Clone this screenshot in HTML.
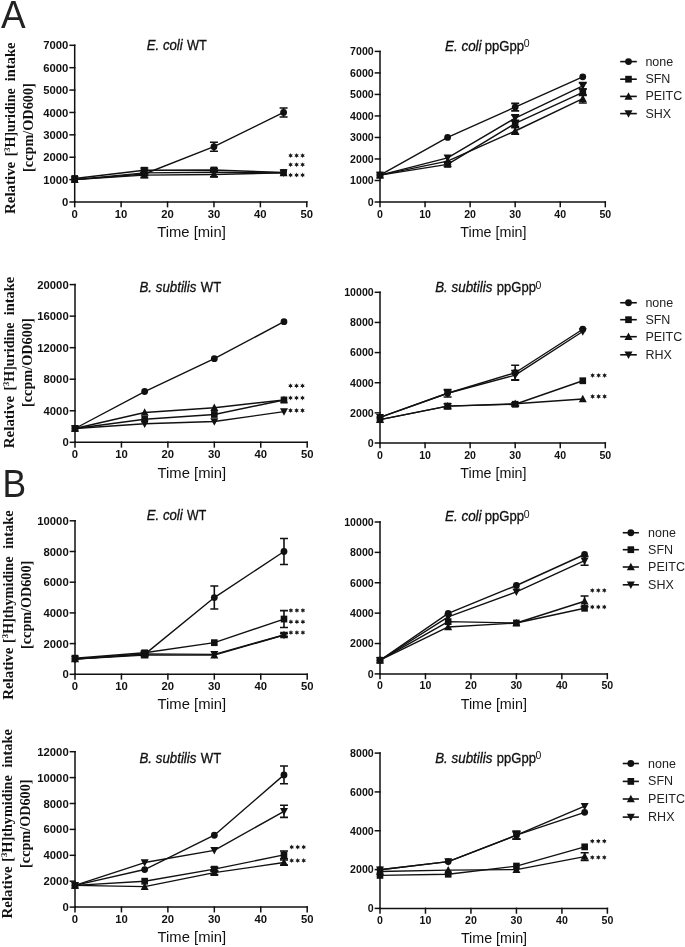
<!DOCTYPE html><html><head><meta charset="utf-8"><style>
html,body{margin:0;padding:0;background:#fff;width:685px;height:947px;overflow:hidden}
svg{display:block;will-change:transform}
text{font-family:"Liberation Sans",sans-serif;fill:#111}
.hv{stroke:#111;stroke-width:0.3px}
.tl{font-weight:bold}
.ser{font-family:"Liberation Serif",serif;font-weight:bold}
</style></head><body>
<svg width="685" height="947" viewBox="0 0 685 947">
<text transform="translate(1.1 27.7) scale(0.935 1)" font-size="39.5" style="fill:#222">A</text>
<text transform="translate(2.5 497.4) scale(0.92 1)" font-size="38.5" style="fill:#222">B</text>
<g stroke="#111" stroke-width="1.5" fill="none" stroke-linecap="square">
<path d="M74.7 45.3V202H306.8"/>
<path d="M70.1 202H74.7"/>
<path d="M70.1 179.61H74.7"/>
<path d="M70.1 157.23H74.7"/>
<path d="M70.1 134.84H74.7"/>
<path d="M70.1 112.46H74.7"/>
<path d="M70.1 90.07H74.7"/>
<path d="M70.1 67.69H74.7"/>
<path d="M70.1 45.3H74.7"/>
<path d="M74.7 202V206.6"/>
<path d="M121.12 202V206.6"/>
<path d="M167.54 202V206.6"/>
<path d="M213.96 202V206.6"/>
<path d="M260.38 202V206.6"/>
<path d="M306.8 202V206.6"/>
</g>
<text class="tl" x="68.4" y="206.05" font-size="11.3" text-anchor="end">0</text>
<text class="tl" x="68.4" y="183.66" font-size="11.3" text-anchor="end">1000</text>
<text class="tl" x="68.4" y="161.27" font-size="11.3" text-anchor="end">2000</text>
<text class="tl" x="68.4" y="138.89" font-size="11.3" text-anchor="end">3000</text>
<text class="tl" x="68.4" y="116.5" font-size="11.3" text-anchor="end">4000</text>
<text class="tl" x="68.4" y="94.12" font-size="11.3" text-anchor="end">5000</text>
<text class="tl" x="68.4" y="71.73" font-size="11.3" text-anchor="end">6000</text>
<text class="tl" x="68.4" y="49.35" font-size="11.3" text-anchor="end">7000</text>
<text class="tl" x="74.7" y="218.09" font-size="11.3" text-anchor="middle">0</text>
<text class="tl" x="121.12" y="218.09" font-size="11.3" text-anchor="middle">10</text>
<text class="tl" x="167.54" y="218.09" font-size="11.3" text-anchor="middle">20</text>
<text class="tl" x="213.96" y="218.09" font-size="11.3" text-anchor="middle">30</text>
<text class="tl" x="260.38" y="218.09" font-size="11.3" text-anchor="middle">40</text>
<text class="tl" x="306.8" y="218.09" font-size="11.3" text-anchor="middle">50</text>
<text x="191.5" y="237.4" font-size="14.8" text-anchor="middle">Time [min]</text>
<text class="hv" x="146.8" y="50.3" font-size="13.8" font-style="italic" textLength="35.9" lengthAdjust="spacingAndGlyphs">E. coli</text>
<text class="hv" x="187" y="50.3" font-size="13.8" textLength="19.8" lengthAdjust="spacingAndGlyphs">WT</text>
<g stroke="#111" stroke-width="1.4" fill="none" stroke-linejoin="round">
<polyline points="74.7,179.61 144.33,174.02 213.96,146.71 283.59,112.46"/>
<polyline points="74.7,178.5 144.33,170.21 213.96,169.99 283.59,172.45"/>
<polyline points="74.7,179.61 144.33,175.14 213.96,174.47 283.59,172.9"/>
<polyline points="74.7,179.61 144.33,172.9 213.96,172.23 283.59,172.9"/>
</g>
<g stroke="#111" stroke-width="1.6" fill="none">
<path d="M213.96 142.23V151.18M209.96 142.23h8M209.96 151.18h8"/>
<path d="M283.59 107.98V116.93M279.59 107.98h8M279.59 116.93h8"/>
<path d="M144.33 167.97V172.45M140.33 167.97h8M140.33 172.45h8"/>
<path d="M213.96 168.2V171.78M209.96 168.2h8M209.96 171.78h8"/>
<path d="M144.33 172.9V177.38M140.33 172.9h8M140.33 177.38h8"/>
<path d="M213.96 172.23V176.7M209.96 172.23h8M209.96 176.7h8"/>
<path d="M144.33 170.66V175.14M140.33 170.66h8M140.33 175.14h8"/>
</g>
<g fill="#111">
<circle cx="74.7" cy="179.61" r="3.4"/>
<circle cx="144.33" cy="174.02" r="3.4"/>
<circle cx="213.96" cy="146.71" r="3.4"/>
<circle cx="283.59" cy="112.46" r="3.4"/>
<rect x="71.4" y="175.09" width="6.6" height="6.8"/>
<rect x="141.03" y="166.81" width="6.6" height="6.8"/>
<rect x="210.66" y="166.59" width="6.6" height="6.8"/>
<rect x="280.29" y="169.05" width="6.6" height="6.8"/>
<path d="M74.7 175.41L78.7 182.91L70.7 182.91Z"/>
<path d="M144.33 170.94L148.33 178.44L140.33 178.44Z"/>
<path d="M213.96 170.27L217.96 177.77L209.96 177.77Z"/>
<path d="M283.59 168.7L287.59 176.2L279.59 176.2Z"/>
<path d="M74.7 183.81L78.7 176.31L70.7 176.31Z"/>
<path d="M144.33 177.1L148.33 169.6L140.33 169.6Z"/>
<path d="M213.96 176.43L217.96 168.93L209.96 168.93Z"/>
<path d="M283.59 177.1L287.59 169.6L279.59 169.6Z"/>
</g>
<g stroke="#111" stroke-width="1.5" fill="none" stroke-linecap="square">
<path d="M380 51.4V202H605.3"/>
<path d="M375.4 202H380"/>
<path d="M375.4 180.49H380"/>
<path d="M375.4 158.97H380"/>
<path d="M375.4 137.46H380"/>
<path d="M375.4 115.94H380"/>
<path d="M375.4 94.43H380"/>
<path d="M375.4 72.91H380"/>
<path d="M375.4 51.4H380"/>
<path d="M380 202V206.6"/>
<path d="M425.06 202V206.6"/>
<path d="M470.12 202V206.6"/>
<path d="M515.18 202V206.6"/>
<path d="M560.24 202V206.6"/>
<path d="M605.3 202V206.6"/>
</g>
<text class="tl" x="373.7" y="205.79" font-size="10.6" text-anchor="end">0</text>
<text class="tl" x="373.7" y="184.28" font-size="10.6" text-anchor="end">1000</text>
<text class="tl" x="373.7" y="162.77" font-size="10.6" text-anchor="end">2000</text>
<text class="tl" x="373.7" y="141.25" font-size="10.6" text-anchor="end">3000</text>
<text class="tl" x="373.7" y="119.74" font-size="10.6" text-anchor="end">4000</text>
<text class="tl" x="373.7" y="98.22" font-size="10.6" text-anchor="end">5000</text>
<text class="tl" x="373.7" y="76.71" font-size="10.6" text-anchor="end">6000</text>
<text class="tl" x="373.7" y="55.19" font-size="10.6" text-anchor="end">7000</text>
<text class="tl" x="380" y="217.59" font-size="10.6" text-anchor="middle">0</text>
<text class="tl" x="425.06" y="217.59" font-size="10.6" text-anchor="middle">10</text>
<text class="tl" x="470.12" y="217.59" font-size="10.6" text-anchor="middle">20</text>
<text class="tl" x="515.18" y="217.59" font-size="10.6" text-anchor="middle">30</text>
<text class="tl" x="560.24" y="217.59" font-size="10.6" text-anchor="middle">40</text>
<text class="tl" x="605.3" y="217.59" font-size="10.6" text-anchor="middle">50</text>
<text x="493.4" y="236.6" font-size="14.3" text-anchor="middle">Time [min]</text>
<text class="hv" x="445" y="50.6" font-size="13.8" font-style="italic" textLength="36.6" lengthAdjust="spacingAndGlyphs">E. coli</text>
<text class="hv" x="484.8" y="50.6" font-size="13.8" textLength="39.3" lengthAdjust="spacingAndGlyphs">ppGpp</text>
<text x="523.7" y="47.2" font-size="10.5">0</text>
<g stroke="#111" stroke-width="1.4" fill="none" stroke-linejoin="round">
<polyline points="380,175.11 447.59,137.46 515.18,107.12 582.77,76.79"/>
<polyline points="380,175.11 447.59,164.35 515.18,123.47 582.77,92.28"/>
<polyline points="380,175.11 447.59,161.12 515.18,131 582.77,98.73"/>
<polyline points="380,175.11 447.59,157.9 515.18,118.09 582.77,85.82"/>
</g>
<g stroke="#111" stroke-width="1.6" fill="none">
<path d="M515.18 103.36V110.89M511.18 103.36h8M511.18 110.89h8"/>
<path d="M447.59 162.2V166.5M443.59 162.2h8M443.59 166.5h8"/>
<path d="M515.18 120.25V126.7M511.18 120.25h8M511.18 126.7h8"/>
<path d="M582.77 89.05V95.5M578.77 89.05h8M578.77 95.5h8"/>
<path d="M515.18 127.78V134.23M511.18 127.78h8M511.18 134.23h8"/>
<path d="M582.77 94.43V103.03M578.77 94.43h8M578.77 103.03h8"/>
<path d="M515.18 114.87V121.32M511.18 114.87h8M511.18 121.32h8"/>
<path d="M582.77 82.6V89.05M578.77 82.6h8M578.77 89.05h8"/>
</g>
<g fill="#111">
<circle cx="380" cy="175.11" r="3.4"/>
<circle cx="447.59" cy="137.46" r="3.4"/>
<circle cx="515.18" cy="107.12" r="3.4"/>
<circle cx="582.77" cy="76.79" r="3.4"/>
<rect x="376.7" y="171.71" width="6.6" height="6.8"/>
<rect x="444.29" y="160.95" width="6.6" height="6.8"/>
<rect x="511.88" y="120.07" width="6.6" height="6.8"/>
<rect x="579.47" y="88.88" width="6.6" height="6.8"/>
<path d="M380 170.91L384 178.41L376 178.41Z"/>
<path d="M447.59 156.92L451.59 164.42L443.59 164.42Z"/>
<path d="M515.18 126.8L519.18 134.3L511.18 134.3Z"/>
<path d="M582.77 94.53L586.77 102.03L578.77 102.03Z"/>
<path d="M380 179.31L384 171.81L376 171.81Z"/>
<path d="M447.59 162.1L451.59 154.6L443.59 154.6Z"/>
<path d="M515.18 122.29L519.18 114.79L511.18 114.79Z"/>
<path d="M582.77 90.02L586.77 82.52L578.77 82.52Z"/>
</g>
<g stroke="#111" stroke-width="1.5" fill="none" stroke-linecap="square">
<path d="M75 284.6V442.3H307.2"/>
<path d="M70.4 442.3H75"/>
<path d="M70.4 410.76H75"/>
<path d="M70.4 379.22H75"/>
<path d="M70.4 347.68H75"/>
<path d="M70.4 316.14H75"/>
<path d="M70.4 284.6H75"/>
<path d="M75 442.3V446.9"/>
<path d="M121.44 442.3V446.9"/>
<path d="M167.88 442.3V446.9"/>
<path d="M214.32 442.3V446.9"/>
<path d="M260.76 442.3V446.9"/>
<path d="M307.2 442.3V446.9"/>
</g>
<text class="tl" x="68.7" y="446.35" font-size="11.3" text-anchor="end">0</text>
<text class="tl" x="68.7" y="414.81" font-size="11.3" text-anchor="end">4000</text>
<text class="tl" x="68.7" y="383.27" font-size="11.3" text-anchor="end">8000</text>
<text class="tl" x="68.7" y="351.73" font-size="11.3" text-anchor="end">12000</text>
<text class="tl" x="68.7" y="320.19" font-size="11.3" text-anchor="end">16000</text>
<text class="tl" x="68.7" y="288.65" font-size="11.3" text-anchor="end">20000</text>
<text class="tl" x="75" y="458.39" font-size="11.3" text-anchor="middle">0</text>
<text class="tl" x="121.44" y="458.39" font-size="11.3" text-anchor="middle">10</text>
<text class="tl" x="167.88" y="458.39" font-size="11.3" text-anchor="middle">20</text>
<text class="tl" x="214.32" y="458.39" font-size="11.3" text-anchor="middle">30</text>
<text class="tl" x="260.76" y="458.39" font-size="11.3" text-anchor="middle">40</text>
<text class="tl" x="307.2" y="458.39" font-size="11.3" text-anchor="middle">50</text>
<text x="191.85" y="477.8" font-size="14.8" text-anchor="middle">Time [min]</text>
<text class="hv" x="139.5" y="292" font-size="13.8" font-style="italic" textLength="56.9" lengthAdjust="spacingAndGlyphs">B. subtilis</text>
<text class="hv" x="200.8" y="292" font-size="13.8" textLength="20.4" lengthAdjust="spacingAndGlyphs">WT</text>
<g stroke="#111" stroke-width="1.4" fill="none" stroke-linejoin="round">
<polyline points="75,428.5 144.66,391.52 214.32,358.72 283.98,321.66"/>
<polyline points="75,428.5 144.66,419.28 214.32,414.47 283.98,399.96"/>
<polyline points="75,428.5 144.66,412.49 214.32,407.68 283.98,399.96"/>
<polyline points="75,428.5 144.66,423.69 214.32,421.48 283.98,411.63"/>
</g>
<g stroke="#111" stroke-width="1.6" fill="none">
</g>
<g fill="#111">
<circle cx="75" cy="428.5" r="3.4"/>
<circle cx="144.66" cy="391.52" r="3.4"/>
<circle cx="214.32" cy="358.72" r="3.4"/>
<circle cx="283.98" cy="321.66" r="3.4"/>
<rect x="71.7" y="425.1" width="6.6" height="6.8"/>
<rect x="141.36" y="415.88" width="6.6" height="6.8"/>
<rect x="211.02" y="411.07" width="6.6" height="6.8"/>
<rect x="280.68" y="396.56" width="6.6" height="6.8"/>
<path d="M75 424.3L79 431.8L71 431.8Z"/>
<path d="M144.66 408.29L148.66 415.79L140.66 415.79Z"/>
<path d="M214.32 403.48L218.32 410.98L210.32 410.98Z"/>
<path d="M283.98 395.76L287.98 403.26L279.98 403.26Z"/>
<path d="M75 432.7L79 425.2L71 425.2Z"/>
<path d="M144.66 427.89L148.66 420.39L140.66 420.39Z"/>
<path d="M214.32 425.68L218.32 418.18L210.32 418.18Z"/>
<path d="M283.98 415.83L287.98 408.33L279.98 408.33Z"/>
</g>
<g stroke="#111" stroke-width="1.5" fill="none" stroke-linecap="square">
<path d="M380 292.3V443H605.3"/>
<path d="M375.4 443H380"/>
<path d="M375.4 412.86H380"/>
<path d="M375.4 382.72H380"/>
<path d="M375.4 352.58H380"/>
<path d="M375.4 322.44H380"/>
<path d="M375.4 292.3H380"/>
<path d="M380 443V447.6"/>
<path d="M425.06 443V447.6"/>
<path d="M470.12 443V447.6"/>
<path d="M515.18 443V447.6"/>
<path d="M560.24 443V447.6"/>
<path d="M605.3 443V447.6"/>
</g>
<text class="tl" x="373.7" y="446.79" font-size="10.6" text-anchor="end">0</text>
<text class="tl" x="373.7" y="416.65" font-size="10.6" text-anchor="end">2000</text>
<text class="tl" x="373.7" y="386.51" font-size="10.6" text-anchor="end">4000</text>
<text class="tl" x="373.7" y="356.37" font-size="10.6" text-anchor="end">6000</text>
<text class="tl" x="373.7" y="326.23" font-size="10.6" text-anchor="end">8000</text>
<text class="tl" x="373.7" y="296.09" font-size="10.6" text-anchor="end">10000</text>
<text class="tl" x="380" y="458.59" font-size="10.6" text-anchor="middle">0</text>
<text class="tl" x="425.06" y="458.59" font-size="10.6" text-anchor="middle">10</text>
<text class="tl" x="470.12" y="458.59" font-size="10.6" text-anchor="middle">20</text>
<text class="tl" x="515.18" y="458.59" font-size="10.6" text-anchor="middle">30</text>
<text class="tl" x="560.24" y="458.59" font-size="10.6" text-anchor="middle">40</text>
<text class="tl" x="605.3" y="458.59" font-size="10.6" text-anchor="middle">50</text>
<text x="493.4" y="477.8" font-size="14.3" text-anchor="middle">Time [min]</text>
<text class="hv" x="435.2" y="292.2" font-size="13.8" font-style="italic" textLength="57.2" lengthAdjust="spacingAndGlyphs">B. subtilis</text>
<text class="hv" x="496.8" y="292.2" font-size="13.8" textLength="39.1" lengthAdjust="spacingAndGlyphs">ppGpp</text>
<text x="535.5" y="288.8" font-size="10.5">0</text>
<g stroke="#111" stroke-width="1.4" fill="none" stroke-linejoin="round">
<polyline points="380,417.38 447.59,393.27 515.18,372.77 582.77,329.22"/>
<polyline points="380,419.64 447.59,406.08 515.18,404.27 582.77,380.76"/>
<polyline points="380,419.64 447.59,406.08 515.18,403.82 582.77,399"/>
<polyline points="380,417.38 447.59,393.27 515.18,375.19 582.77,331.48"/>
</g>
<g stroke="#111" stroke-width="1.6" fill="none">
<path d="M515.18 365.24V380.31M511.18 365.24h8M511.18 380.31h8"/>
<path d="M447.59 403.82V408.34M443.59 403.82h8M443.59 408.34h8"/>
<path d="M515.18 402.76V405.78M511.18 402.76h8M511.18 405.78h8"/>
<path d="M447.59 389.5V397.04M443.59 389.5h8M443.59 397.04h8"/>
<path d="M515.18 370.66V379.71M511.18 370.66h8M511.18 379.71h8"/>
</g>
<g fill="#111">
<circle cx="380" cy="417.38" r="3.4"/>
<circle cx="447.59" cy="393.27" r="3.4"/>
<circle cx="515.18" cy="372.77" r="3.4"/>
<circle cx="582.77" cy="329.22" r="3.4"/>
<rect x="376.7" y="416.24" width="6.6" height="6.8"/>
<rect x="444.29" y="402.68" width="6.6" height="6.8"/>
<rect x="511.88" y="400.87" width="6.6" height="6.8"/>
<rect x="579.47" y="377.36" width="6.6" height="6.8"/>
<path d="M380 415.44L384 422.94L376 422.94Z"/>
<path d="M447.59 401.88L451.59 409.38L443.59 409.38Z"/>
<path d="M515.18 399.62L519.18 407.12L511.18 407.12Z"/>
<path d="M582.77 394.8L586.77 402.3L578.77 402.3Z"/>
<path d="M380 421.58L384 414.08L376 414.08Z"/>
<path d="M447.59 397.47L451.59 389.97L443.59 389.97Z"/>
<path d="M515.18 379.38L519.18 371.88L511.18 371.88Z"/>
<path d="M582.77 335.68L586.77 328.18L578.77 328.18Z"/>
</g>
<g stroke="#111" stroke-width="1.5" fill="none" stroke-linecap="square">
<path d="M75 520.8V674.3H307.2"/>
<path d="M70.4 674.3H75"/>
<path d="M70.4 643.6H75"/>
<path d="M70.4 612.9H75"/>
<path d="M70.4 582.2H75"/>
<path d="M70.4 551.5H75"/>
<path d="M70.4 520.8H75"/>
<path d="M75 674.3V678.9"/>
<path d="M121.44 674.3V678.9"/>
<path d="M167.88 674.3V678.9"/>
<path d="M214.32 674.3V678.9"/>
<path d="M260.76 674.3V678.9"/>
<path d="M307.2 674.3V678.9"/>
</g>
<text class="tl" x="68.7" y="678.35" font-size="11.3" text-anchor="end">0</text>
<text class="tl" x="68.7" y="647.65" font-size="11.3" text-anchor="end">2000</text>
<text class="tl" x="68.7" y="616.95" font-size="11.3" text-anchor="end">4000</text>
<text class="tl" x="68.7" y="586.25" font-size="11.3" text-anchor="end">6000</text>
<text class="tl" x="68.7" y="555.55" font-size="11.3" text-anchor="end">8000</text>
<text class="tl" x="68.7" y="524.85" font-size="11.3" text-anchor="end">10000</text>
<text class="tl" x="75" y="690.39" font-size="11.3" text-anchor="middle">0</text>
<text class="tl" x="121.44" y="690.39" font-size="11.3" text-anchor="middle">10</text>
<text class="tl" x="167.88" y="690.39" font-size="11.3" text-anchor="middle">20</text>
<text class="tl" x="214.32" y="690.39" font-size="11.3" text-anchor="middle">30</text>
<text class="tl" x="260.76" y="690.39" font-size="11.3" text-anchor="middle">40</text>
<text class="tl" x="307.2" y="690.39" font-size="11.3" text-anchor="middle">50</text>
<text x="191.85" y="709.2" font-size="14.8" text-anchor="middle">Time [min]</text>
<text class="hv" x="146.8" y="520.3" font-size="13.8" font-style="italic" textLength="35.9" lengthAdjust="spacingAndGlyphs">E. coli</text>
<text class="hv" x="187" y="520.3" font-size="13.8" textLength="19.2" lengthAdjust="spacingAndGlyphs">WT</text>
<g stroke="#111" stroke-width="1.4" fill="none" stroke-linejoin="round">
<polyline points="75,658.95 144.66,654.34 214.32,597.55 283.98,551.5"/>
<polyline points="75,658.18 144.66,652.81 214.32,642.68 283.98,619.04"/>
<polyline points="75,658.95 144.66,655.11 214.32,655.11 283.98,635"/>
<polyline points="75,658.95 144.66,653.88 214.32,654.34 283.98,635"/>
</g>
<g stroke="#111" stroke-width="1.6" fill="none">
<path d="M214.32 586.04V609.06M210.32 586.04h8M210.32 609.06h8"/>
<path d="M283.98 538.45V564.55M279.98 538.45h8M279.98 564.55h8"/>
<path d="M144.66 651.27V654.34M140.66 651.27h8M140.66 654.34h8"/>
<path d="M283.98 610.6V627.48M279.98 610.6h8M279.98 627.48h8"/>
<path d="M144.66 653.58V656.65M140.66 653.58h8M140.66 656.65h8"/>
<path d="M283.98 633.47V636.54M279.98 633.47h8M279.98 636.54h8"/>
<path d="M144.66 652.35V655.42M140.66 652.35h8M140.66 655.42h8"/>
<path d="M283.98 633.47V636.54M279.98 633.47h8M279.98 636.54h8"/>
</g>
<g fill="#111">
<circle cx="75" cy="658.95" r="3.4"/>
<circle cx="144.66" cy="654.34" r="3.4"/>
<circle cx="214.32" cy="597.55" r="3.4"/>
<circle cx="283.98" cy="551.5" r="3.4"/>
<rect x="71.7" y="654.78" width="6.6" height="6.8"/>
<rect x="141.36" y="649.41" width="6.6" height="6.8"/>
<rect x="211.02" y="639.28" width="6.6" height="6.8"/>
<rect x="280.68" y="615.64" width="6.6" height="6.8"/>
<path d="M75 654.75L79 662.25L71 662.25Z"/>
<path d="M144.66 650.91L148.66 658.41L140.66 658.41Z"/>
<path d="M214.32 650.91L218.32 658.41L210.32 658.41Z"/>
<path d="M283.98 630.8L287.98 638.3L279.98 638.3Z"/>
<path d="M75 663.15L79 655.65L71 655.65Z"/>
<path d="M144.66 658.08L148.66 650.58L140.66 650.58Z"/>
<path d="M214.32 658.54L218.32 651.04L210.32 651.04Z"/>
<path d="M283.98 639.2L287.98 631.7L279.98 631.7Z"/>
</g>
<g stroke="#111" stroke-width="1.5" fill="none" stroke-linecap="square">
<path d="M380 522V673.9H607.3"/>
<path d="M375.4 673.9H380"/>
<path d="M375.4 643.52H380"/>
<path d="M375.4 613.14H380"/>
<path d="M375.4 582.76H380"/>
<path d="M375.4 552.38H380"/>
<path d="M375.4 522H380"/>
<path d="M380 673.9V678.5"/>
<path d="M425.46 673.9V678.5"/>
<path d="M470.92 673.9V678.5"/>
<path d="M516.38 673.9V678.5"/>
<path d="M561.84 673.9V678.5"/>
<path d="M607.3 673.9V678.5"/>
</g>
<text class="tl" x="373.7" y="677.69" font-size="10.6" text-anchor="end">0</text>
<text class="tl" x="373.7" y="647.31" font-size="10.6" text-anchor="end">2000</text>
<text class="tl" x="373.7" y="616.93" font-size="10.6" text-anchor="end">4000</text>
<text class="tl" x="373.7" y="586.55" font-size="10.6" text-anchor="end">6000</text>
<text class="tl" x="373.7" y="556.17" font-size="10.6" text-anchor="end">8000</text>
<text class="tl" x="373.7" y="525.79" font-size="10.6" text-anchor="end">10000</text>
<text class="tl" x="380" y="689.49" font-size="10.6" text-anchor="middle">0</text>
<text class="tl" x="425.46" y="689.49" font-size="10.6" text-anchor="middle">10</text>
<text class="tl" x="470.92" y="689.49" font-size="10.6" text-anchor="middle">20</text>
<text class="tl" x="516.38" y="689.49" font-size="10.6" text-anchor="middle">30</text>
<text class="tl" x="561.84" y="689.49" font-size="10.6" text-anchor="middle">40</text>
<text class="tl" x="607.3" y="689.49" font-size="10.6" text-anchor="middle">50</text>
<text x="493.8" y="708.6" font-size="14.3" text-anchor="middle">Time [min]</text>
<text class="hv" x="445" y="520.9" font-size="13.8" font-style="italic" textLength="36.6" lengthAdjust="spacingAndGlyphs">E. coli</text>
<text class="hv" x="484.8" y="520.9" font-size="13.8" textLength="39.3" lengthAdjust="spacingAndGlyphs">ppGpp</text>
<text x="523.7" y="517.5" font-size="10.5">0</text>
<g stroke="#111" stroke-width="1.4" fill="none" stroke-linejoin="round">
<polyline points="380,660.23 448.19,613.44 516.38,585.49 584.57,554.51"/>
<polyline points="380,660.23 448.19,621.65 516.38,623.01 584.57,608.28"/>
<polyline points="380,660.23 448.19,626.96 516.38,623.01 584.57,601.29"/>
<polyline points="380,660.23 448.19,616.94 516.38,591.87 584.57,560.73"/>
</g>
<g stroke="#111" stroke-width="1.6" fill="none">
<path d="M584.57 595.98V606.61M580.57 595.98h8M580.57 606.61h8"/>
<path d="M584.57 556.18V565.29M580.57 556.18h8M580.57 565.29h8"/>
</g>
<g fill="#111">
<circle cx="380" cy="660.23" r="3.4"/>
<circle cx="448.19" cy="613.44" r="3.4"/>
<circle cx="516.38" cy="585.49" r="3.4"/>
<circle cx="584.57" cy="554.51" r="3.4"/>
<rect x="376.7" y="656.83" width="6.6" height="6.8"/>
<rect x="444.89" y="618.25" width="6.6" height="6.8"/>
<rect x="513.08" y="619.61" width="6.6" height="6.8"/>
<rect x="581.27" y="604.88" width="6.6" height="6.8"/>
<path d="M380 656.03L384 663.53L376 663.53Z"/>
<path d="M448.19 622.76L452.19 630.26L444.19 630.26Z"/>
<path d="M516.38 618.81L520.38 626.31L512.38 626.31Z"/>
<path d="M584.57 597.09L588.57 604.59L580.57 604.59Z"/>
<path d="M380 664.43L384 656.93L376 656.93Z"/>
<path d="M448.19 621.14L452.19 613.64L444.19 613.64Z"/>
<path d="M516.38 596.07L520.38 588.57L512.38 588.57Z"/>
<path d="M584.57 564.93L588.57 557.43L580.57 557.43Z"/>
</g>
<g stroke="#111" stroke-width="1.5" fill="none" stroke-linecap="square">
<path d="M75 751.7V907.1H307.2"/>
<path d="M70.4 907.1H75"/>
<path d="M70.4 881.2H75"/>
<path d="M70.4 855.3H75"/>
<path d="M70.4 829.4H75"/>
<path d="M70.4 803.5H75"/>
<path d="M70.4 777.6H75"/>
<path d="M70.4 751.7H75"/>
<path d="M75 907.1V911.7"/>
<path d="M121.44 907.1V911.7"/>
<path d="M167.88 907.1V911.7"/>
<path d="M214.32 907.1V911.7"/>
<path d="M260.76 907.1V911.7"/>
<path d="M307.2 907.1V911.7"/>
</g>
<text class="tl" x="68.7" y="911.15" font-size="11.3" text-anchor="end">0</text>
<text class="tl" x="68.7" y="885.25" font-size="11.3" text-anchor="end">2000</text>
<text class="tl" x="68.7" y="859.35" font-size="11.3" text-anchor="end">4000</text>
<text class="tl" x="68.7" y="833.45" font-size="11.3" text-anchor="end">6000</text>
<text class="tl" x="68.7" y="807.55" font-size="11.3" text-anchor="end">8000</text>
<text class="tl" x="68.7" y="781.65" font-size="11.3" text-anchor="end">10000</text>
<text class="tl" x="68.7" y="755.75" font-size="11.3" text-anchor="end">12000</text>
<text class="tl" x="75" y="923.19" font-size="11.3" text-anchor="middle">0</text>
<text class="tl" x="121.44" y="923.19" font-size="11.3" text-anchor="middle">10</text>
<text class="tl" x="167.88" y="923.19" font-size="11.3" text-anchor="middle">20</text>
<text class="tl" x="214.32" y="923.19" font-size="11.3" text-anchor="middle">30</text>
<text class="tl" x="260.76" y="923.19" font-size="11.3" text-anchor="middle">40</text>
<text class="tl" x="307.2" y="923.19" font-size="11.3" text-anchor="middle">50</text>
<text x="191.85" y="941.7" font-size="14.8" text-anchor="middle">Time [min]</text>
<text class="hv" x="139.5" y="762.9" font-size="13.8" font-style="italic" textLength="56.9" lengthAdjust="spacingAndGlyphs">B. subtilis</text>
<text class="hv" x="200.8" y="762.9" font-size="13.8" textLength="20.4" lengthAdjust="spacingAndGlyphs">WT</text>
<g stroke="#111" stroke-width="1.4" fill="none" stroke-linejoin="round">
<polyline points="75,885.41 144.66,869.55 214.32,835.23 283.98,774.88"/>
<polyline points="75,885.41 144.66,881.2 214.32,869.16 283.98,854.91"/>
<polyline points="75,885.41 144.66,886.64 214.32,872.65 283.98,862.55"/>
<polyline points="75,885.41 144.66,862.55 214.32,850.38 283.98,811.27"/>
</g>
<g stroke="#111" stroke-width="1.6" fill="none">
<path d="M283.98 766.07V783.69M279.98 766.07h8M279.98 783.69h8"/>
<path d="M214.32 867.21V871.1M210.32 867.21h8M210.32 871.1h8"/>
<path d="M283.98 851.03V858.8M279.98 851.03h8M279.98 858.8h8"/>
<path d="M214.32 870.71V874.6M210.32 870.71h8M210.32 874.6h8"/>
<path d="M283.98 859.96V865.14M279.98 859.96h8M279.98 865.14h8"/>
<path d="M283.98 805.18V817.36M279.98 805.18h8M279.98 817.36h8"/>
</g>
<g fill="#111">
<circle cx="75" cy="885.41" r="3.4"/>
<circle cx="144.66" cy="869.55" r="3.4"/>
<circle cx="214.32" cy="835.23" r="3.4"/>
<circle cx="283.98" cy="774.88" r="3.4"/>
<rect x="71.7" y="882.01" width="6.6" height="6.8"/>
<rect x="141.36" y="877.8" width="6.6" height="6.8"/>
<rect x="211.02" y="865.76" width="6.6" height="6.8"/>
<rect x="280.68" y="851.51" width="6.6" height="6.8"/>
<path d="M75 881.21L79 888.71L71 888.71Z"/>
<path d="M144.66 882.44L148.66 889.94L140.66 889.94Z"/>
<path d="M214.32 868.45L218.32 875.95L210.32 875.95Z"/>
<path d="M283.98 858.35L287.98 865.85L279.98 865.85Z"/>
<path d="M75 889.61L79 882.11L71 882.11Z"/>
<path d="M144.66 866.75L148.66 859.25L140.66 859.25Z"/>
<path d="M214.32 854.58L218.32 847.08L210.32 847.08Z"/>
<path d="M283.98 815.47L287.98 807.97L279.98 807.97Z"/>
</g>
<g stroke="#111" stroke-width="1.5" fill="none" stroke-linecap="square">
<path d="M380 753.1V908.4H607.4"/>
<path d="M375.4 908.4H380"/>
<path d="M375.4 869.58H380"/>
<path d="M375.4 830.75H380"/>
<path d="M375.4 791.92H380"/>
<path d="M375.4 753.1H380"/>
<path d="M380 908.4V913"/>
<path d="M425.48 908.4V913"/>
<path d="M470.96 908.4V913"/>
<path d="M516.44 908.4V913"/>
<path d="M561.92 908.4V913"/>
<path d="M607.4 908.4V913"/>
</g>
<text class="tl" x="373.7" y="912.19" font-size="10.6" text-anchor="end">0</text>
<text class="tl" x="373.7" y="873.37" font-size="10.6" text-anchor="end">2000</text>
<text class="tl" x="373.7" y="834.54" font-size="10.6" text-anchor="end">4000</text>
<text class="tl" x="373.7" y="795.72" font-size="10.6" text-anchor="end">6000</text>
<text class="tl" x="373.7" y="756.89" font-size="10.6" text-anchor="end">8000</text>
<text class="tl" x="380" y="923.99" font-size="10.6" text-anchor="middle">0</text>
<text class="tl" x="425.48" y="923.99" font-size="10.6" text-anchor="middle">10</text>
<text class="tl" x="470.96" y="923.99" font-size="10.6" text-anchor="middle">20</text>
<text class="tl" x="516.44" y="923.99" font-size="10.6" text-anchor="middle">30</text>
<text class="tl" x="561.92" y="923.99" font-size="10.6" text-anchor="middle">40</text>
<text class="tl" x="607.4" y="923.99" font-size="10.6" text-anchor="middle">50</text>
<text x="494" y="942.5" font-size="14.3" text-anchor="middle">Time [min]</text>
<text class="hv" x="435.2" y="762.8" font-size="13.8" font-style="italic" textLength="57.2" lengthAdjust="spacingAndGlyphs">B. subtilis</text>
<text class="hv" x="496.8" y="762.8" font-size="13.8" textLength="39.1" lengthAdjust="spacingAndGlyphs">ppGpp</text>
<text x="535.5" y="759.4" font-size="10.5">0</text>
<g stroke="#111" stroke-width="1.4" fill="none" stroke-linejoin="round">
<polyline points="380,869.77 448.22,861.62 516.44,835.21 584.66,812.31"/>
<polyline points="380,875.4 448.22,874.23 516.44,866.08 584.66,846.86"/>
<polyline points="380,871.52 448.22,870.16 516.44,869.58 584.66,856.57"/>
<polyline points="380,869.77 448.22,861.62 516.44,835.21 584.66,806.19"/>
</g>
<g stroke="#111" stroke-width="1.6" fill="none">
<path d="M516.44 831.33V839.1M512.44 831.33h8M512.44 839.1h8"/>
<path d="M584.66 852.69V860.45M580.66 852.69h8M580.66 860.45h8"/>
<path d="M516.44 831.33V839.1M512.44 831.33h8M512.44 839.1h8"/>
</g>
<g fill="#111">
<circle cx="380" cy="869.77" r="3.4"/>
<circle cx="448.22" cy="861.62" r="3.4"/>
<circle cx="516.44" cy="835.21" r="3.4"/>
<circle cx="584.66" cy="812.31" r="3.4"/>
<rect x="376.7" y="872" width="6.6" height="6.8"/>
<rect x="444.92" y="870.83" width="6.6" height="6.8"/>
<rect x="513.14" y="862.68" width="6.6" height="6.8"/>
<rect x="581.36" y="843.46" width="6.6" height="6.8"/>
<path d="M380 867.32L384 874.82L376 874.82Z"/>
<path d="M448.22 865.96L452.22 873.46L444.22 873.46Z"/>
<path d="M516.44 865.38L520.44 872.88L512.44 872.88Z"/>
<path d="M584.66 852.37L588.66 859.87L580.66 859.87Z"/>
<path d="M380 873.97L384 866.47L376 866.47Z"/>
<path d="M448.22 865.82L452.22 858.32L444.22 858.32Z"/>
<path d="M516.44 839.41L520.44 831.91L512.44 831.91Z"/>
<path d="M584.66 810.39L588.66 802.89L580.66 802.89Z"/>
</g>
<g fill="#1a1a1a">
<polygon points="290.6,153.1 291.28,154.43 292.77,154.35 291.95,155.6 292.77,156.85 291.28,156.77 290.6,158.1 289.93,156.77 288.43,156.85 289.25,155.6 288.43,154.35 289.93,154.43"/>
<polygon points="296.6,153.1 297.28,154.43 298.77,154.35 297.95,155.6 298.77,156.85 297.28,156.77 296.6,158.1 295.93,156.77 294.43,156.85 295.25,155.6 294.43,154.35 295.93,154.43"/>
<polygon points="302.6,153.1 303.28,154.43 304.77,154.35 303.95,155.6 304.77,156.85 303.28,156.77 302.6,158.1 301.93,156.77 300.43,156.85 301.25,155.6 300.43,154.35 301.93,154.43"/>
<polygon points="290.6,162.2 291.28,163.53 292.77,163.45 291.95,164.7 292.77,165.95 291.28,165.87 290.6,167.2 289.93,165.87 288.43,165.95 289.25,164.7 288.43,163.45 289.93,163.53"/>
<polygon points="296.6,162.2 297.28,163.53 298.77,163.45 297.95,164.7 298.77,165.95 297.28,165.87 296.6,167.2 295.93,165.87 294.43,165.95 295.25,164.7 294.43,163.45 295.93,163.53"/>
<polygon points="302.6,162.2 303.28,163.53 304.77,163.45 303.95,164.7 304.77,165.95 303.28,165.87 302.6,167.2 301.93,165.87 300.43,165.95 301.25,164.7 300.43,163.45 301.93,163.53"/>
<polygon points="290.6,172.6 291.28,173.93 292.77,173.85 291.95,175.1 292.77,176.35 291.28,176.27 290.6,177.6 289.93,176.27 288.43,176.35 289.25,175.1 288.43,173.85 289.93,173.93"/>
<polygon points="296.6,172.6 297.28,173.93 298.77,173.85 297.95,175.1 298.77,176.35 297.28,176.27 296.6,177.6 295.93,176.27 294.43,176.35 295.25,175.1 294.43,173.85 295.93,173.93"/>
<polygon points="302.6,172.6 303.28,173.93 304.77,173.85 303.95,175.1 304.77,176.35 303.28,176.27 302.6,177.6 301.93,176.27 300.43,176.35 301.25,175.1 300.43,173.85 301.93,173.93"/>
<polygon points="290.5,383.3 291.18,384.63 292.67,384.55 291.85,385.8 292.67,387.05 291.18,386.97 290.5,388.3 289.82,386.97 288.33,387.05 289.15,385.8 288.33,384.55 289.82,384.63"/>
<polygon points="296.5,383.3 297.18,384.63 298.67,384.55 297.85,385.8 298.67,387.05 297.18,386.97 296.5,388.3 295.82,386.97 294.33,387.05 295.15,385.8 294.33,384.55 295.82,384.63"/>
<polygon points="302.5,383.3 303.18,384.63 304.67,384.55 303.85,385.8 304.67,387.05 303.18,386.97 302.5,388.3 301.82,386.97 300.33,387.05 301.15,385.8 300.33,384.55 301.82,384.63"/>
<polygon points="290.5,395.4 291.18,396.73 292.67,396.65 291.85,397.9 292.67,399.15 291.18,399.07 290.5,400.4 289.82,399.07 288.33,399.15 289.15,397.9 288.33,396.65 289.82,396.73"/>
<polygon points="296.5,395.4 297.18,396.73 298.67,396.65 297.85,397.9 298.67,399.15 297.18,399.07 296.5,400.4 295.82,399.07 294.33,399.15 295.15,397.9 294.33,396.65 295.82,396.73"/>
<polygon points="302.5,395.4 303.18,396.73 304.67,396.65 303.85,397.9 304.67,399.15 303.18,399.07 302.5,400.4 301.82,399.07 300.33,399.15 301.15,397.9 300.33,396.65 301.82,396.73"/>
<polygon points="290.5,408 291.18,409.33 292.67,409.25 291.85,410.5 292.67,411.75 291.18,411.67 290.5,413 289.82,411.67 288.33,411.75 289.15,410.5 288.33,409.25 289.82,409.33"/>
<polygon points="296.5,408 297.18,409.33 298.67,409.25 297.85,410.5 298.67,411.75 297.18,411.67 296.5,413 295.82,411.67 294.33,411.75 295.15,410.5 294.33,409.25 295.82,409.33"/>
<polygon points="302.5,408 303.18,409.33 304.67,409.25 303.85,410.5 304.67,411.75 303.18,411.67 302.5,413 301.82,411.67 300.33,411.75 301.15,410.5 300.33,409.25 301.82,409.33"/>
<polygon points="592.6,372.9 593.27,374.23 594.77,374.15 593.95,375.4 594.77,376.65 593.27,376.57 592.6,377.9 591.92,376.57 590.43,376.65 591.25,375.4 590.43,374.15 591.92,374.23"/>
<polygon points="598.6,372.9 599.27,374.23 600.77,374.15 599.95,375.4 600.77,376.65 599.27,376.57 598.6,377.9 597.92,376.57 596.43,376.65 597.25,375.4 596.43,374.15 597.92,374.23"/>
<polygon points="604.6,372.9 605.27,374.23 606.77,374.15 605.95,375.4 606.77,376.65 605.27,376.57 604.6,377.9 603.92,376.57 602.43,376.65 603.25,375.4 602.43,374.15 603.92,374.23"/>
<polygon points="592.6,394 593.27,395.33 594.77,395.25 593.95,396.5 594.77,397.75 593.27,397.67 592.6,399 591.92,397.67 590.43,397.75 591.25,396.5 590.43,395.25 591.92,395.33"/>
<polygon points="598.6,394 599.27,395.33 600.77,395.25 599.95,396.5 600.77,397.75 599.27,397.67 598.6,399 597.92,397.67 596.43,397.75 597.25,396.5 596.43,395.25 597.92,395.33"/>
<polygon points="604.6,394 605.27,395.33 606.77,395.25 605.95,396.5 606.77,397.75 605.27,397.67 604.6,399 603.92,397.67 602.43,397.75 603.25,396.5 602.43,395.25 603.92,395.33"/>
<polygon points="290.9,607.9 291.58,609.23 293.07,609.15 292.25,610.4 293.07,611.65 291.58,611.57 290.9,612.9 290.23,611.57 288.73,611.65 289.55,610.4 288.73,609.15 290.23,609.23"/>
<polygon points="296.9,607.9 297.58,609.23 299.07,609.15 298.25,610.4 299.07,611.65 297.58,611.57 296.9,612.9 296.23,611.57 294.73,611.65 295.55,610.4 294.73,609.15 296.23,609.23"/>
<polygon points="302.9,607.9 303.58,609.23 305.07,609.15 304.25,610.4 305.07,611.65 303.58,611.57 302.9,612.9 302.23,611.57 300.73,611.65 301.55,610.4 300.73,609.15 302.23,609.23"/>
<polygon points="290.9,619.3 291.58,620.63 293.07,620.55 292.25,621.8 293.07,623.05 291.58,622.97 290.9,624.3 290.23,622.97 288.73,623.05 289.55,621.8 288.73,620.55 290.23,620.63"/>
<polygon points="296.9,619.3 297.58,620.63 299.07,620.55 298.25,621.8 299.07,623.05 297.58,622.97 296.9,624.3 296.23,622.97 294.73,623.05 295.55,621.8 294.73,620.55 296.23,620.63"/>
<polygon points="302.9,619.3 303.58,620.63 305.07,620.55 304.25,621.8 305.07,623.05 303.58,622.97 302.9,624.3 302.23,622.97 300.73,623.05 301.55,621.8 300.73,620.55 302.23,620.63"/>
<polygon points="290.9,630.1 291.58,631.43 293.07,631.35 292.25,632.6 293.07,633.85 291.58,633.77 290.9,635.1 290.23,633.77 288.73,633.85 289.55,632.6 288.73,631.35 290.23,631.43"/>
<polygon points="296.9,630.1 297.58,631.43 299.07,631.35 298.25,632.6 299.07,633.85 297.58,633.77 296.9,635.1 296.23,633.77 294.73,633.85 295.55,632.6 294.73,631.35 296.23,631.43"/>
<polygon points="302.9,630.1 303.58,631.43 305.07,631.35 304.25,632.6 305.07,633.85 303.58,633.77 302.9,635.1 302.23,633.77 300.73,633.85 301.55,632.6 300.73,631.35 302.23,631.43"/>
<polygon points="592.3,587.9 592.97,589.23 594.47,589.15 593.65,590.4 594.47,591.65 592.97,591.57 592.3,592.9 591.62,591.57 590.13,591.65 590.95,590.4 590.13,589.15 591.62,589.23"/>
<polygon points="598.3,587.9 598.97,589.23 600.47,589.15 599.65,590.4 600.47,591.65 598.97,591.57 598.3,592.9 597.62,591.57 596.13,591.65 596.95,590.4 596.13,589.15 597.62,589.23"/>
<polygon points="604.3,587.9 604.97,589.23 606.47,589.15 605.65,590.4 606.47,591.65 604.97,591.57 604.3,592.9 603.62,591.57 602.13,591.65 602.95,590.4 602.13,589.15 603.62,589.23"/>
<polygon points="592.3,604.5 592.97,605.83 594.47,605.75 593.65,607 594.47,608.25 592.97,608.17 592.3,609.5 591.62,608.17 590.13,608.25 590.95,607 590.13,605.75 591.62,605.83"/>
<polygon points="598.3,604.5 598.97,605.83 600.47,605.75 599.65,607 600.47,608.25 598.97,608.17 598.3,609.5 597.62,608.17 596.13,608.25 596.95,607 596.13,605.75 597.62,605.83"/>
<polygon points="604.3,604.5 604.97,605.83 606.47,605.75 605.65,607 606.47,608.25 604.97,608.17 604.3,609.5 603.62,608.17 602.13,608.25 602.95,607 602.13,605.75 603.62,605.83"/>
<polygon points="291.7,844.6 292.38,845.93 293.87,845.85 293.05,847.1 293.87,848.35 292.38,848.27 291.7,849.6 291.02,848.27 289.53,848.35 290.35,847.1 289.53,845.85 291.02,845.93"/>
<polygon points="297.7,844.6 298.38,845.93 299.87,845.85 299.05,847.1 299.87,848.35 298.38,848.27 297.7,849.6 297.02,848.27 295.53,848.35 296.35,847.1 295.53,845.85 297.02,845.93"/>
<polygon points="303.7,844.6 304.38,845.93 305.87,845.85 305.05,847.1 305.87,848.35 304.38,848.27 303.7,849.6 303.02,848.27 301.53,848.35 302.35,847.1 301.53,845.85 303.02,845.93"/>
<polygon points="291.7,858.1 292.38,859.43 293.87,859.35 293.05,860.6 293.87,861.85 292.38,861.77 291.7,863.1 291.02,861.77 289.53,861.85 290.35,860.6 289.53,859.35 291.02,859.43"/>
<polygon points="297.7,858.1 298.38,859.43 299.87,859.35 299.05,860.6 299.87,861.85 298.38,861.77 297.7,863.1 297.02,861.77 295.53,861.85 296.35,860.6 295.53,859.35 297.02,859.43"/>
<polygon points="303.7,858.1 304.38,859.43 305.87,859.35 305.05,860.6 305.87,861.85 304.38,861.77 303.7,863.1 303.02,861.77 301.53,861.85 302.35,860.6 301.53,859.35 303.02,859.43"/>
<polygon points="592.3,838.7 592.97,840.03 594.47,839.95 593.65,841.2 594.47,842.45 592.97,842.37 592.3,843.7 591.62,842.37 590.13,842.45 590.95,841.2 590.13,839.95 591.62,840.03"/>
<polygon points="598.3,838.7 598.97,840.03 600.47,839.95 599.65,841.2 600.47,842.45 598.97,842.37 598.3,843.7 597.62,842.37 596.13,842.45 596.95,841.2 596.13,839.95 597.62,840.03"/>
<polygon points="604.3,838.7 604.97,840.03 606.47,839.95 605.65,841.2 606.47,842.45 604.97,842.37 604.3,843.7 603.62,842.37 602.13,842.45 602.95,841.2 602.13,839.95 603.62,840.03"/>
<polygon points="592.3,854.9 592.97,856.23 594.47,856.15 593.65,857.4 594.47,858.65 592.97,858.57 592.3,859.9 591.62,858.57 590.13,858.65 590.95,857.4 590.13,856.15 591.62,856.23"/>
<polygon points="598.3,854.9 598.97,856.23 600.47,856.15 599.65,857.4 600.47,858.65 598.97,858.57 598.3,859.9 597.62,858.57 596.13,858.65 596.95,857.4 596.13,856.15 597.62,856.23"/>
<polygon points="604.3,854.9 604.97,856.23 606.47,856.15 605.65,857.4 606.47,858.65 604.97,858.57 604.3,859.9 603.62,858.57 602.13,858.65 602.95,857.4 602.13,856.15 603.62,856.23"/>
</g>
<path d="M620.2 61.6H636.8" stroke="#111" stroke-width="1.6"/>
<g fill="#111"><circle cx="628.5" cy="61.6" r="3.4"/></g>
<text x="645.4" y="65.6" font-size="12.5" style="fill:#222">none</text>
<path d="M620.2 79.2H636.8" stroke="#111" stroke-width="1.6"/>
<g fill="#111"><rect x="625.2" y="75.8" width="6.6" height="6.8"/></g>
<text x="645.4" y="83.2" font-size="12.5" style="fill:#222">SFN</text>
<path d="M620.2 96.4H636.8" stroke="#111" stroke-width="1.6"/>
<g fill="#111"><path d="M628.5 92.2L632.5 99.7L624.5 99.7Z"/></g>
<text x="645.4" y="100.4" font-size="12.5" style="fill:#222">PEITC</text>
<path d="M620.2 113.6H636.8" stroke="#111" stroke-width="1.6"/>
<g fill="#111"><path d="M628.5 117.8L632.5 110.3L624.5 110.3Z"/></g>
<text x="645.4" y="117.6" font-size="12.5" style="fill:#222">SHX</text>
<path d="M620.2 302.75H636.8" stroke="#111" stroke-width="1.6"/>
<g fill="#111"><circle cx="628.5" cy="302.75" r="3.4"/></g>
<text x="645.4" y="306.75" font-size="12.5" style="fill:#222">none</text>
<path d="M620.2 319.7H636.8" stroke="#111" stroke-width="1.6"/>
<g fill="#111"><rect x="625.2" y="316.3" width="6.6" height="6.8"/></g>
<text x="645.4" y="323.7" font-size="12.5" style="fill:#222">SFN</text>
<path d="M620.2 336.7H636.8" stroke="#111" stroke-width="1.6"/>
<g fill="#111"><path d="M628.5 332.5L632.5 340L624.5 340Z"/></g>
<text x="645.4" y="340.7" font-size="12.5" style="fill:#222">PEITC</text>
<path d="M620.2 354.8H636.8" stroke="#111" stroke-width="1.6"/>
<g fill="#111"><path d="M628.5 359L632.5 351.5L624.5 351.5Z"/></g>
<text x="645.4" y="358.8" font-size="12.5" style="fill:#222">RHX</text>
<path d="M622.75 532.75H638.9" stroke="#111" stroke-width="1.6"/>
<g fill="#111"><circle cx="630.83" cy="532.75" r="3.4"/></g>
<text x="648.1" y="536.75" font-size="12.5" style="fill:#222">none</text>
<path d="M622.75 549.7H638.9" stroke="#111" stroke-width="1.6"/>
<g fill="#111"><rect x="627.53" y="546.3" width="6.6" height="6.8"/></g>
<text x="648.1" y="553.7" font-size="12.5" style="fill:#222">SFN</text>
<path d="M622.75 567H638.9" stroke="#111" stroke-width="1.6"/>
<g fill="#111"><path d="M630.83 562.8L634.83 570.3L626.83 570.3Z"/></g>
<text x="648.1" y="571" font-size="12.5" style="fill:#222">PEITC</text>
<path d="M622.75 584.8H638.9" stroke="#111" stroke-width="1.6"/>
<g fill="#111"><path d="M630.83 589L634.83 581.5L626.83 581.5Z"/></g>
<text x="648.1" y="588.8" font-size="12.5" style="fill:#222">SHX</text>
<path d="M622.75 763.5H638.9" stroke="#111" stroke-width="1.6"/>
<g fill="#111"><circle cx="630.83" cy="763.5" r="3.4"/></g>
<text x="648.1" y="767.5" font-size="12.5" style="fill:#222">none</text>
<path d="M622.75 781.4H638.9" stroke="#111" stroke-width="1.6"/>
<g fill="#111"><rect x="627.53" y="778" width="6.6" height="6.8"/></g>
<text x="648.1" y="785.4" font-size="12.5" style="fill:#222">SFN</text>
<path d="M622.75 799H638.9" stroke="#111" stroke-width="1.6"/>
<g fill="#111"><path d="M630.83 794.8L634.83 802.3L626.83 802.3Z"/></g>
<text x="648.1" y="803" font-size="12.5" style="fill:#222">PEITC</text>
<path d="M622.75 817.1H638.9" stroke="#111" stroke-width="1.6"/>
<g fill="#111"><path d="M630.83 821.3L634.83 813.8L626.83 813.8Z"/></g>
<text x="648.1" y="821.1" font-size="12.5" style="fill:#222">RHX</text>
<text class="ser" font-size="15" transform="translate(15.1 213.95) rotate(-90)" textLength="52.2" lengthAdjust="spacingAndGlyphs">Relative</text>
<text class="ser" font-size="15" transform="translate(15.1 156.35) rotate(-90)" textLength="68" lengthAdjust="spacingAndGlyphs">[<tspan font-size="9" dy="-5.2">3</tspan><tspan dy="5.2">H]uridine</tspan></text>
<text class="ser" font-size="15" transform="translate(15.1 81.15) rotate(-90)" textLength="38.5" lengthAdjust="spacingAndGlyphs">intake</text>
<text class="ser" font-size="14.6" transform="translate(33.1 171.9) rotate(-90)" textLength="88.7" lengthAdjust="spacingAndGlyphs">[ccpm/OD600]</text>
<text class="ser" font-size="15" transform="translate(14.3 448.15) rotate(-90)" textLength="52.2" lengthAdjust="spacingAndGlyphs">Relative</text>
<text class="ser" font-size="15" transform="translate(14.3 390.55) rotate(-90)" textLength="68" lengthAdjust="spacingAndGlyphs">[<tspan font-size="9" dy="-5.2">3</tspan><tspan dy="5.2">H]uridine</tspan></text>
<text class="ser" font-size="15" transform="translate(14.3 315.35) rotate(-90)" textLength="38.5" lengthAdjust="spacingAndGlyphs">intake</text>
<text class="ser" font-size="14.6" transform="translate(32.2 407) rotate(-90)" textLength="88.8" lengthAdjust="spacingAndGlyphs">[ccpm/OD600]</text>
<text class="ser" font-size="15" transform="translate(13.4 699.85) rotate(-90)" textLength="52.3" lengthAdjust="spacingAndGlyphs">Relative</text>
<text class="ser" font-size="15" transform="translate(13.4 642.95) rotate(-90)" textLength="86.5" lengthAdjust="spacingAndGlyphs">[<tspan font-size="9" dy="-5.2">3</tspan><tspan dy="5.2">H]thymidine</tspan></text>
<text class="ser" font-size="15" transform="translate(13.4 548.85) rotate(-90)" textLength="38.4" lengthAdjust="spacingAndGlyphs">intake</text>
<text class="ser" font-size="14.6" transform="translate(31.2 648.9) rotate(-90)" textLength="88.1" lengthAdjust="spacingAndGlyphs">[ccpm/OD600]</text>
<text class="ser" font-size="15" transform="translate(12 918.55) rotate(-90)" textLength="52.3" lengthAdjust="spacingAndGlyphs">Relative</text>
<text class="ser" font-size="15" transform="translate(12 861.65) rotate(-90)" textLength="86.5" lengthAdjust="spacingAndGlyphs">[<tspan font-size="9" dy="-5.2">3</tspan><tspan dy="5.2">H]thymidine</tspan></text>
<text class="ser" font-size="15" transform="translate(12 767.55) rotate(-90)" textLength="38.4" lengthAdjust="spacingAndGlyphs">intake</text>
<text class="ser" font-size="14.6" transform="translate(30.1 867.9) rotate(-90)" textLength="88.4" lengthAdjust="spacingAndGlyphs">[ccpm/OD600]</text>
</svg></body></html>
